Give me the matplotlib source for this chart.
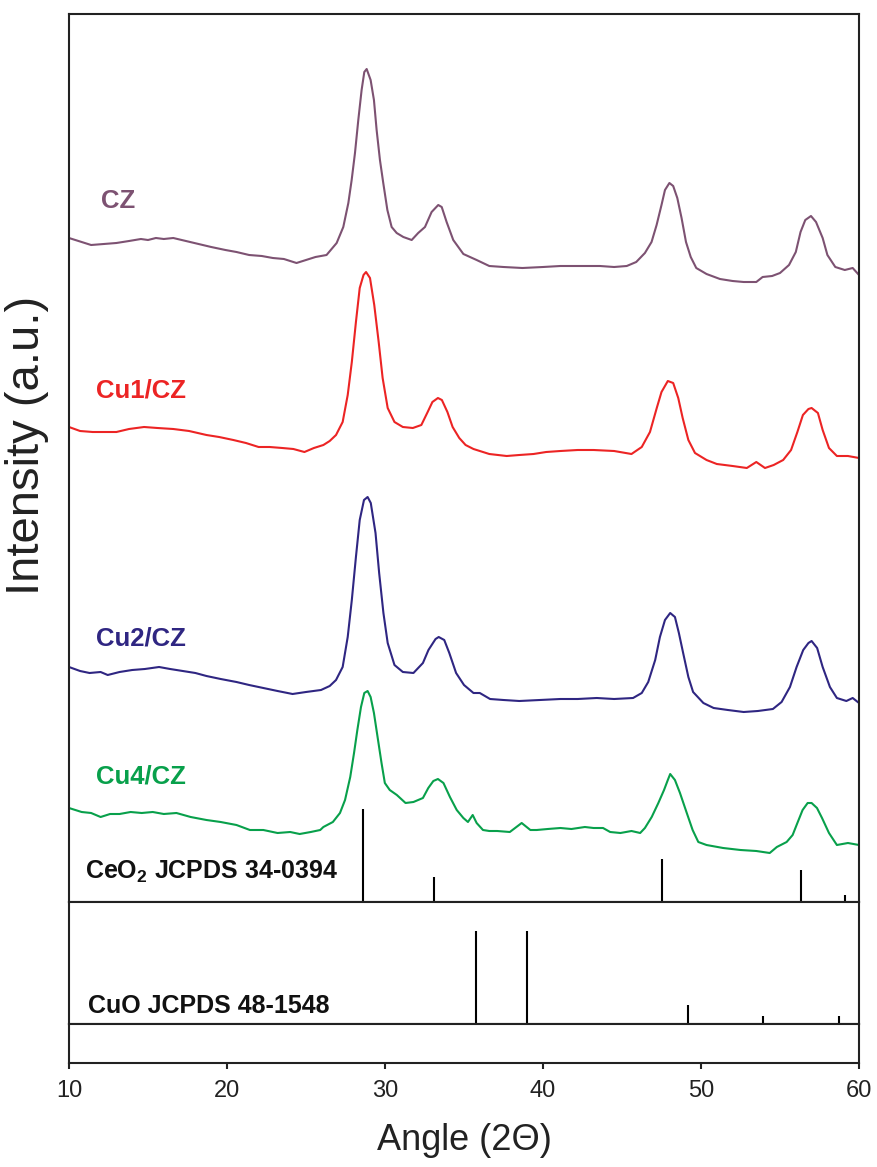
import numpy as np
import matplotlib
matplotlib.use("Agg")
import matplotlib.pyplot as plt

plt.rcParams['font.family'] = ['Liberation Sans', 'DejaVu Sans']
plt.rcParams['mathtext.fontset'] = 'custom'
plt.rcParams['mathtext.rm'] = 'Liberation Sans'
plt.rcParams['mathtext.bf'] = 'Liberation Sans:bold'

# XRD patterns (angle 2theta, stacked intensity in a.u.)
cz = [(10.0, 664), (10.6, 661), (11.4, 657), (12.2, 658), (13.0, 659), (13.8, 661), (14.55, 663),
      (15.0, 662), (15.5, 664), (16.0, 663), (16.6, 664), (17.4, 661), (18.2, 658), (19.0, 655),
      (19.9, 652), (20.6, 650), (21.4, 647), (22.2, 646), (22.9, 644), (23.6, 643), (24.4, 639),
      (25.0, 642), (25.6, 645), (26.3, 647), (26.94, 659), (27.36, 675), (27.68, 699), (27.89, 722),
      (28.1, 749), (28.31, 782), (28.52, 812), (28.69, 830), (28.84, 833), (29.09, 822), (29.3, 802),
      (29.47, 772), (29.68, 742), (29.89, 719), (30.15, 692), (30.42, 675), (30.74, 669), (31.16, 665),
      (31.69, 662), (32.1, 669), (32.53, 675), (32.95, 690), (33.37, 697), (33.59, 695), (33.9, 680),
      (34.32, 662), (34.96, 648), (35.8, 642), (36.6, 636), (37.5, 635), (38.7, 634), (40.0, 635),
      (41.1, 636), (42.3, 636), (43.6, 636), (44.5, 635), (45.3, 636), (45.9, 640), (46.45, 649),
      (46.87, 660), (47.19, 677), (47.5, 697), (47.72, 712), (48.0, 719), (48.24, 716), (48.5, 704),
      (48.77, 684), (49.05, 660), (49.35, 645), (49.7, 634), (50.35, 628), (51.2, 623), (52.0, 621),
      (52.7, 620), (53.5, 620), (53.9, 625), (54.5, 626), (55.0, 629), (55.57, 637), (56.0, 650),
      (56.3, 670), (56.6, 682), (56.96, 686), (57.28, 680), (57.7, 664), (58.0, 647), (58.5, 635),
      (59.1, 632), (59.6, 634), (60.0, 627)]

cu1 = [(10.0, 475), (10.7, 471), (11.5, 470), (12.3, 470), (13.0, 470), (13.8, 473), (14.75, 475),
       (15.6, 474), (16.6, 473), (17.6, 471), (18.7, 467), (19.5, 465), (20.4, 462), (21.2, 459),
       (22.0, 455), (22.7, 455), (23.5, 454), (24.2, 453), (24.9, 450), (25.5, 454), (26.1, 457),
       (26.5, 461), (26.9, 467), (27.32, 480), (27.64, 507), (27.9, 540), (28.16, 580), (28.4, 614),
       (28.64, 627), (28.8, 630), (29.05, 624), (29.32, 597), (29.6, 560), (29.85, 524), (30.17, 494),
       (30.6, 480), (31.13, 475), (31.76, 474), (32.3, 477), (32.7, 490), (33.0, 500), (33.35, 504),
       (33.6, 502), (33.95, 490), (34.28, 475), (34.7, 464), (35.1, 457), (35.6, 453), (36.6, 448),
       (37.7, 446), (38.5, 447), (39.4, 448), (40.2, 450), (41.1, 451), (42.2, 452), (43.2, 452),
       (44.5, 451), (45.6, 448), (46.25, 455), (46.77, 470), (47.2, 494), (47.5, 510), (47.9, 521),
       (48.24, 519), (48.56, 504), (48.84, 484), (49.2, 462), (49.62, 449), (50.35, 442), (51.0, 438),
       (52.0, 436), (52.9, 434), (53.5, 440), (54.05, 434), (54.6, 437), (55.2, 442), (55.7, 452),
       (56.1, 470), (56.45, 487), (56.8, 493), (57.0, 494), (57.4, 489), (57.7, 472), (58.1, 454),
       (58.6, 446), (59.3, 446), (60.0, 444)]

cu2 = [(10.0, 235), (10.7, 231), (11.3, 229), (12.0, 230), (12.45, 227), (13.2, 230), (14.0, 232),
       (14.8, 233), (15.7, 235), (16.4, 233), (17.2, 231), (18.0, 229), (18.7, 226), (19.6, 223),
       (20.6, 220), (21.4, 217), (22.3, 214), (23.2, 211), (24.15, 208), (25.0, 210), (25.95, 212),
       (26.5, 216), (26.9, 222), (27.32, 235), (27.64, 265), (27.9, 302), (28.16, 345), (28.4, 382),
       (28.67, 402), (28.9, 405), (29.1, 399), (29.4, 369), (29.63, 329), (29.9, 289), (30.17, 259),
       (30.6, 237), (31.13, 230), (31.8, 229), (32.4, 239), (32.75, 252), (33.2, 263), (33.4, 265),
       (33.75, 262), (34.07, 249), (34.5, 229), (35.0, 217), (35.6, 209), (36.0, 209), (36.65, 203),
       (37.5, 202), (38.5, 201), (39.8, 202), (41.1, 203), (42.2, 203), (43.4, 204), (44.5, 203),
       (45.7, 204), (46.25, 209), (46.66, 220), (47.1, 242), (47.4, 265), (47.72, 282), (48.05, 289),
       (48.35, 285), (48.6, 269), (48.87, 249), (49.2, 225), (49.5, 210), (50.15, 199), (50.8, 194),
       (51.7, 192), (52.7, 190), (53.6, 191), (54.55, 193), (55.1, 200), (55.63, 215), (56.05, 235),
       (56.47, 252), (56.8, 259), (57.0, 261), (57.35, 254), (57.7, 235), (58.16, 215), (58.6, 204),
       (59.2, 201), (59.6, 204), (60.0, 199)]

cu4 = [(10.0, 94), (10.8, 90), (11.4, 89), (12.0, 85), (12.6, 88), (13.2, 88), (13.9, 90), (14.6, 89),
       (15.3, 90), (16.0, 88), (16.8, 89), (17.7, 85), (18.7, 82), (19.6, 80), (20.6, 77), (21.45, 72),
       (22.3, 72), (23.2, 69), (24.0, 70), (24.6, 68), (25.3, 70), (25.9, 72), (26.1, 75), (26.7, 80),
       (27.15, 89), (27.47, 102), (27.8, 125), (28.04, 149), (28.25, 172), (28.48, 195), (28.69, 209),
       (28.9, 211), (29.09, 205), (29.3, 189), (29.53, 165), (29.78, 139), (29.99, 119), (30.3, 112),
       (30.75, 107), (31.3, 99), (31.8, 100), (32.4, 104), (32.74, 114), (33.06, 121), (33.35, 123),
       (33.7, 119), (34.11, 105), (34.54, 92), (34.96, 84), (35.25, 80), (35.55, 87), (35.8, 79),
       (36.2, 72), (36.6, 71), (37.1, 71), (37.9, 70), (38.65, 79), (39.2, 72), (39.6, 72), (40.3, 73),
       (41.1, 74), (41.8, 73), (42.65, 75), (43.2, 74), (43.8, 74), (44.25, 70), (44.9, 69), (45.6, 71),
       (46.15, 69), (46.45, 74), (46.88, 85), (47.3, 99), (47.66, 112), (47.9, 122), (48.05, 128),
       (48.35, 122), (48.67, 109), (49.1, 89), (49.47, 72), (49.83, 60), (50.35, 57), (51.4, 54),
       (52.5, 52), (53.5, 51), (54.35, 49), (54.8, 55), (55.42, 60), (55.8, 67), (56.1, 79), (56.43, 92),
       (56.75, 99), (57.0, 99), (57.34, 94), (57.66, 84), (58.1, 69), (58.6, 57), (59.3, 59), (60.0, 57)]

# reference patterns (relative intensity)
ceo2_pos = [28.6, 33.1, 47.5, 56.35, 59.1]
ceo2_rel = [100, 27, 46, 34, 7]
cuo_pos = [35.75, 39.0, 49.15, 53.9, 58.75]
cuo_rel = [100, 100, 20, 9, 9]

series = [
    ('CZ', cz, '#7d5272', 701),
    ('Cu1/CZ', cu1, '#ec2424', 511),
    ('Cu2/CZ', cu2, '#2f2682', 263),
    ('Cu4/CZ', cu4, '#08a04b', 126),
]

W, H = 878, 1167
fig = plt.figure(figsize=(W / 100, H / 100), dpi=100)

def rect(top, bottom, left=69, right=859):
    return [left / W, 1 - bottom / H, (right - left) / W, (bottom - top) / H]

ax1 = fig.add_axes(rect(14, 902))
ax2 = fig.add_axes(rect(902, 1024))
ax3 = fig.add_axes(rect(1024, 1063))

for ax in (ax1, ax2, ax3):
    ax.set_xlim(10, 60)
    for s in ax.spines.values():
        s.set_linewidth(1.5)
        s.set_color('#222222')
    ax.set_yticks([])

ax1.set_ylim(0, 888)
ax2.set_ylim(0, 122)
ax3.set_ylim(0, 1)

for name, pts, col, ly in series:
    a, y = np.array(pts).T
    ax1.plot(a, y, color=col, lw=1.5)
    ax1.text(11.7 if name != 'CZ' else 12.0, ly, name, color=col, fontsize=18.5,
             fontweight='bold', ha='left', va='center')

ax1.vlines(ceo2_pos, 0, np.array(ceo2_rel) * 0.93, color='black', lw=1.5)
ax2.vlines(cuo_pos, 0, np.array(cuo_rel) * 0.93, color='black', lw=1.5)

ax1.text(11.0, 23, r'CeO$_\mathbf{2}$ JCPDS 34-0394', fontsize=18, fontweight='bold',
         ha='left', va='baseline', color='#111111')
ax2.text(11.2, 11, 'CuO JCPDS 48-1548', fontsize=18, fontweight='bold',
         ha='left', va='baseline', color='#111111')

ax1.tick_params(axis='x', bottom=False, labelbottom=False)
ax2.tick_params(axis='x', bottom=False, labelbottom=False)
ax3.set_xticks([10, 20, 30, 40, 50, 60])
ax3.tick_params(axis='x', direction='out', length=4, width=1.5, labelsize=17, pad=8,
                colors='#222222')

fig.text(464 / W, 1 - 1140 / H, 'Angle (2\u0398)', fontsize=26, ha='center', va='center',
         color='#222222')
fig.text(27 / W, 1 - 445 / H, 'Intensity (a.u.)', fontsize=34, ha='center', va='center',
         rotation=90, color='#222222')

fig.savefig('out.png', dpi=100)
